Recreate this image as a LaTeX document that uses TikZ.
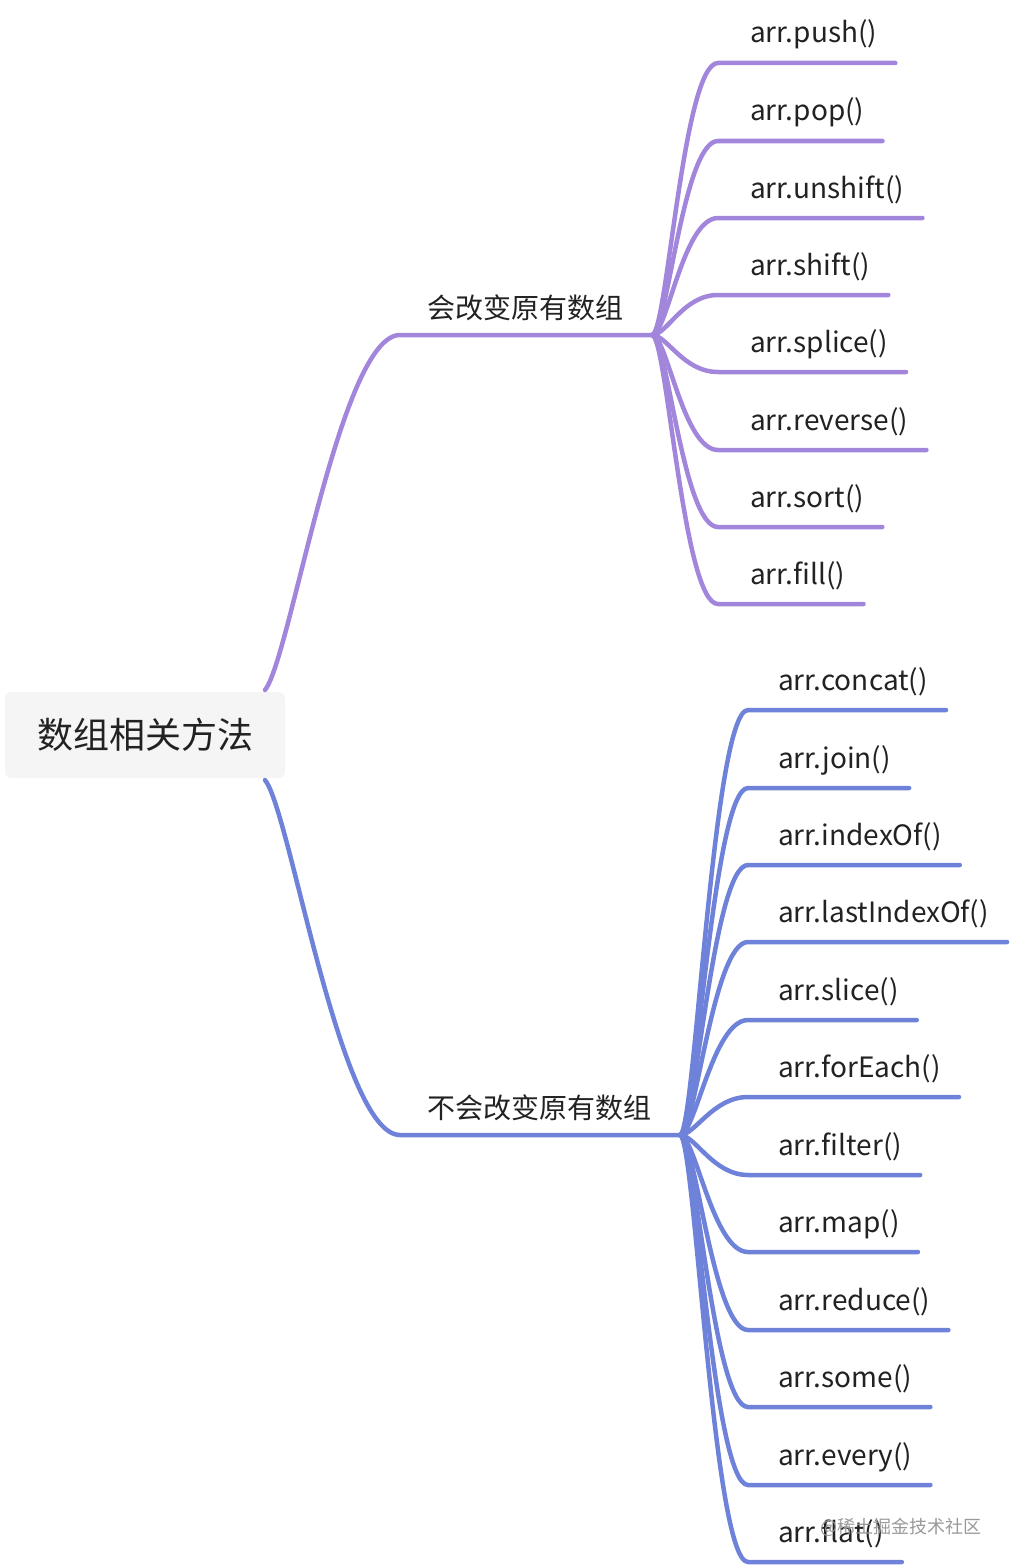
\documentclass[tikz,border=0pt]{standalone}
\usepackage{fontspec}
\setmainfont{Noto Sans CJK SC}

\definecolor{mutline}{HTML}{A286DC}
\definecolor{keepline}{HTML}{6F82DA}
\definecolor{rootfill}{HTML}{F5F5F5}
\definecolor{labeltext}{HTML}{222222}

\tikzset{
  leaf/.style={anchor=base west, inner sep=0pt, text=labeltext, font=\fontsize{28}{30}\selectfont},
  branch/.style={anchor=base west, inner sep=0pt, text=labeltext, font=\fontsize{28}{30}\selectfont},
  mutedge/.style={line width=4.5pt, line cap=round, mutline},
  keepedge/.style={line width=4.5pt, line cap=round, keepline},
}

\begin{document}
\begin{tikzpicture}[x=1pt,y=-1pt]
  \useasboundingbox (0,0) rectangle (1012,1568);

  % root
  \node [fill=rootfill, rounded corners=6pt, minimum width=280pt, minimum height=86pt,
         inner sep=0pt, text=labeltext, font=\fontsize{36}{40}\selectfont]
        (root) at (145,735) {数组相关方法};
  \coordinate (rt) at (265,690);
  \coordinate (rb) at (265,780);

  % branch: 会改变原有数组
  \coordinate (mc) at (400,335);
  \coordinate (mj) at (652,335);
  \node [branch] (mutate) at (427,318) {会改变原有数组};
  \draw [mutedge] (rt) .. controls +(25,-30) and +(-60,0) .. (mc) -- (mj);

  \coordinate (m1) at (718,63);
  \coordinate (m2) at (718,141);
  \coordinate (m3) at (718,218);
  \coordinate (m4) at (718,295);
  \coordinate (m5) at (718,372);
  \coordinate (m6) at (718,450);
  \coordinate (m7) at (718,527);
  \coordinate (m8) at (718,604);

  \node [leaf] (push) at (750,43) {arr.push()};
  \node [leaf] (pop) at (750,121) {arr.pop()};
  \node [leaf] (unshift) at (750,198) {arr.unshift()};
  \node [leaf] (shift) at (750,275) {arr.shift()};
  \node [leaf] (splice) at (750,352) {arr.splice()};
  \node [leaf] (reverse) at (750,430) {arr.reverse()};
  \node [leaf] (sort) at (750,507) {arr.sort()};
  \node [leaf] (fill) at (750,584) {arr.fill()};

  \draw [mutedge] (mj) .. controls +(15,0) and +(-35,0) .. (m1) -- ([xshift=18pt]m1 -| push.east);
  \draw [mutedge] (mj) .. controls +(15,0) and +(-35,0) .. (m2) -- ([xshift=18pt]m2 -| pop.east);
  \draw [mutedge] (mj) .. controls +(15,0) and +(-35,0) .. (m3) -- ([xshift=18pt]m3 -| unshift.east);
  \draw [mutedge] (mj) .. controls +(15,0) and +(-35,0) .. (m4) -- ([xshift=18pt]m4 -| shift.east);
  \draw [mutedge] (mj) .. controls +(15,0) and +(-35,0) .. (m5) -- ([xshift=18pt]m5 -| splice.east);
  \draw [mutedge] (mj) .. controls +(15,0) and +(-35,0) .. (m6) -- ([xshift=18pt]m6 -| reverse.east);
  \draw [mutedge] (mj) .. controls +(15,0) and +(-35,0) .. (m7) -- ([xshift=18pt]m7 -| sort.east);
  \draw [mutedge] (mj) .. controls +(15,0) and +(-35,0) .. (m8) -- ([xshift=18pt]m8 -| fill.east);

  % branch: 不会改变原有数组
  \coordinate (kc) at (400,1135);
  \coordinate (kj) at (680,1135);
  \node [branch] (keep) at (427,1118) {不会改变原有数组};
  \draw [keepedge] (rb) .. controls +(25,30) and +(-60,0) .. (kc) -- (kj);

  \coordinate (k1) at (748,710);
  \coordinate (k2) at (748,788);
  \coordinate (k3) at (748,865);
  \coordinate (k4) at (748,942);
  \coordinate (k5) at (748,1020);
  \coordinate (k6) at (748,1097);
  \coordinate (k7) at (748,1175);
  \coordinate (k8) at (748,1252);
  \coordinate (k9) at (748,1330);
  \coordinate (k10) at (748,1407);
  \coordinate (k11) at (748,1485);
  \coordinate (k12) at (748,1562);

  \node [leaf] (concat) at (778,690) {arr.concat()};
  \node [leaf] (join) at (778,768) {arr.join()};
  \node [leaf] (indexof) at (778,845) {arr.indexOf()};
  \node [leaf] (lastindexof) at (778,922) {arr.lastIndexOf()};
  \node [leaf] (slice) at (778,1000) {arr.slice()};
  \node [leaf] (foreach) at (778,1077) {arr.forEach()};
  \node [leaf] (filter) at (778,1155) {arr.filter()};
  \node [leaf] (map) at (778,1232) {arr.map()};
  \node [leaf] (reduce) at (778,1310) {arr.reduce()};
  \node [leaf] (some) at (778,1387) {arr.some()};
  \node [leaf] (every) at (778,1465) {arr.every()};
  \node [leaf] (flat) at (778,1542) {arr.flat()};

  \draw [keepedge] (kj) .. controls +(15,0) and +(-35,0) .. (k1) -- ([xshift=18pt]k1 -| concat.east);
  \draw [keepedge] (kj) .. controls +(15,0) and +(-35,0) .. (k2) -- ([xshift=18pt]k2 -| join.east);
  \draw [keepedge] (kj) .. controls +(15,0) and +(-35,0) .. (k3) -- ([xshift=18pt]k3 -| indexof.east);
  \draw [keepedge] (kj) .. controls +(15,0) and +(-35,0) .. (k4) -- ([xshift=18pt]k4 -| lastindexof.east);
  \draw [keepedge] (kj) .. controls +(15,0) and +(-35,0) .. (k5) -- ([xshift=18pt]k5 -| slice.east);
  \draw [keepedge] (kj) .. controls +(15,0) and +(-35,0) .. (k6) -- ([xshift=18pt]k6 -| foreach.east);
  \draw [keepedge] (kj) .. controls +(15,0) and +(-35,0) .. (k7) -- ([xshift=18pt]k7 -| filter.east);
  \draw [keepedge] (kj) .. controls +(15,0) and +(-35,0) .. (k8) -- ([xshift=18pt]k8 -| map.east);
  \draw [keepedge] (kj) .. controls +(15,0) and +(-35,0) .. (k9) -- ([xshift=18pt]k9 -| reduce.east);
  \draw [keepedge] (kj) .. controls +(15,0) and +(-35,0) .. (k10) -- ([xshift=18pt]k10 -| some.east);
  \draw [keepedge] (kj) .. controls +(15,0) and +(-35,0) .. (k11) -- ([xshift=18pt]k11 -| every.east);
  \draw [keepedge] (kj) .. controls +(15,0) and +(-35,0) .. (k12) -- ([xshift=18pt]k12 -| flat.east);

  % watermark
  \node [anchor=base west, inner sep=0pt, text=black!40, font=\fontsize{18}{20}\selectfont]
        (mark) at (820,1533) {@稀土掘金技术社区};

\end{tikzpicture}
\end{document}
